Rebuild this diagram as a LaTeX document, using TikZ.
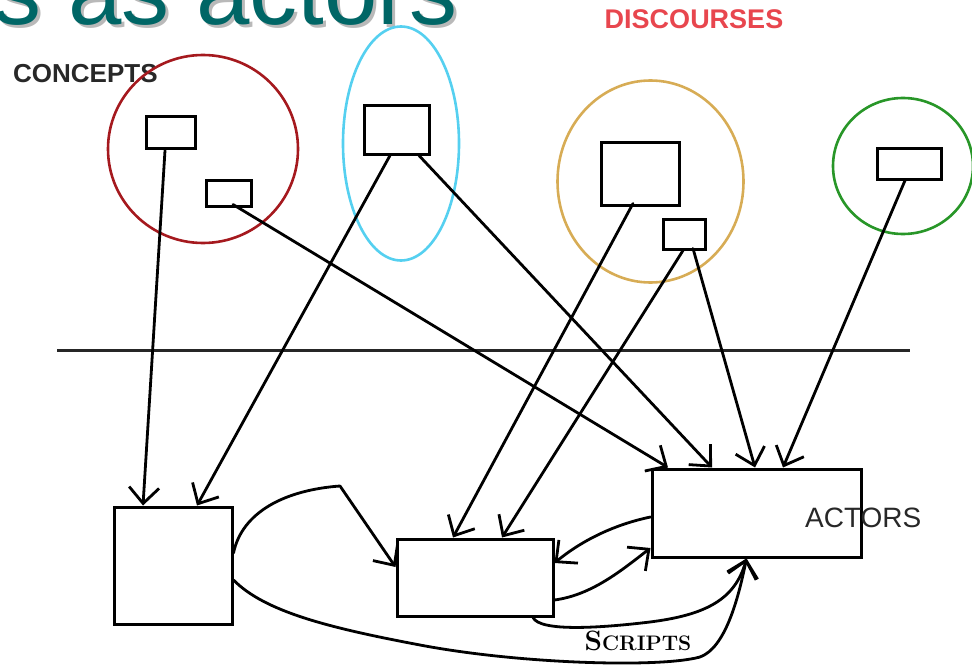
\documentclass[tikz,border=0pt]{standalone}
\usepackage{fontspec}
\newfontfamily\sansf{Liberation Sans}
\usetikzlibrary{arrows.meta}
\definecolor{titleteal}{RGB}{0,102,102}
\definecolor{shadowgray}{RGB}{185,185,185}
\definecolor{cred}{RGB}{165,25,30}
\definecolor{ccyan}{RGB}{85,208,240}
\definecolor{cgold}{RGB}{215,172,85}
\definecolor{cgreen}{RGB}{40,150,40}
\definecolor{dred}{RGB}{232,70,78}
\definecolor{ctext}{RGB}{40,40,40}
\tikzset{
  box/.style={draw=black, line width=3bp, inner sep=0pt},
  ring/.style={line width=2.6bp},
  arr/.style={line width=2.8bp, line cap=round, line join=round,
    -{Straight Barb[length=16bp,width=30bp]}},
  lbl/.style={inner sep=0pt, text=ctext},
}
\begin{document}
\begin{tikzpicture}[x=1bp,y=-1bp]
\useasboundingbox (0,0) rectangle (972,666);
% title
\node[anchor=base east, inner sep=0pt, text=shadowgray,
  font=\sansf\fontsize{96bp}{100bp}\selectfont] (tshadow) at (461,28) {s as actors};
\node[anchor=base east, inner sep=0pt, text=titleteal,
  font=\sansf\fontsize{96bp}{100bp}\selectfont] (title) at (458,25) {s as actors};
% labels
\node[inner sep=0pt, text=dred, font=\sansf\bfseries\fontsize{27bp}{29bp}\selectfont] (disc) at (694,19) {DISCOURSES};
\node[lbl, anchor=west, font=\sansf\bfseries\fontsize{26bp}{28bp}\selectfont] (conc) at (13,74) {CONCEPTS};
% rings
\draw[ring, cred] (203,149) ellipse [x radius=95bp, y radius=94bp];
\draw[ring, ccyan] (401,143.5) ellipse [x radius=58bp, y radius=117bp];
\draw[ring, cgold] (650.5,181.5) ellipse [x radius=93bp, y radius=101bp];
\draw[ring, cgreen] (903,166) ellipse [x radius=70bp, y radius=68bp];
% small boxes
\node[box, minimum width=49bp, minimum height=32bp] (c1) at (170.5,133) {};
\node[box, minimum width=45bp, minimum height=25bp] (c2) at (228.5,193.5) {};
\node[box, minimum width=65bp, minimum height=48bp] (b1) at (396.5,130) {};
\node[box, minimum width=78bp, minimum height=62bp] (g1) at (640,174) {};
\node[box, minimum width=42bp, minimum height=30bp] (g2) at (684,234) {};
\node[box, minimum width=64bp, minimum height=30bp] (r1) at (909,164) {};
% divider
\coordinate (h1) at (57,350);
\coordinate (h2) at (910,350);
\draw[line width=3bp, black!85] (h1) -- (h2);
% bottom boxes
\node[box, minimum width=118bp, minimum height=117bp] (L) at (173,565.5) {};
\node[box, minimum width=156bp, minimum height=77bp] (M) at (475,577.5) {};
\node[box, minimum width=209bp, minimum height=88bp] (A) at (756.5,513) {};
\node[lbl, anchor=west, font=\sansf\fontsize{28bp}{30bp}\selectfont] (act) at (805,518) {ACTORS};
% straight connectors
\draw[arr] ([xshift=-5.5bp]c1.south) -- ([xshift=-30bp]L.north);
\draw[arr] ([xshift=-6.5bp]b1.south) -- ([xshift=24bp]L.north);
\draw[arr] ([xshift=4.5bp,yshift=3bp]c2.south) -- ([xshift=-88.5bp]A.north);
\draw[arr] ([xshift=22.5bp]b1.south) -- ([xshift=-44.5bp]A.north);
\draw[arr] ([xshift=-7bp,yshift=3bp]g1.south) -- ([xshift=-22bp]M.north);
\draw[arr] ([xshift=-1bp]g2.south) -- ([xshift=27bp]M.north);
\draw[arr] ([xshift=9bp,yshift=2bp]g2.south) -- ([xshift=-1.5bp]A.north);
\draw[arr] ([xshift=-4bp]r1.south) -- ([xshift=26.5bp]A.north);
% curved connectors (scripts)
\draw[arr] ([yshift=12.5bp]L.east) .. controls (242,512) and (285,490) .. (340,486) -- ([yshift=10.5bp]M.west);
\draw[arr] ([yshift=-14.5bp]L.east) .. controls (265,612) and (330,628) .. (420,645)
  .. controls (520,664) and (660,668) .. (700,657)
  .. controls (725,648) and (738,600) .. ([xshift=-10bp]A.south);
\draw[arr] ([xshift=58bp]M.south) .. controls (540,632) and (600,628) .. (650,622)
  .. controls (705,615) and (735,600) .. ([xshift=-10bp]A.south);
\draw[arr] ([yshift=-4bp]A.west) .. controls (612,525) and (580,542) .. ([yshift=14.5bp]M.east);
\draw[arr] ([yshift=-22.5bp]M.east) .. controls (592,595) and (622,570) .. ([yshift=-35bp]A.west);
% scripts label
\node[inner sep=0pt, anchor=base, text=black] (scr) at (638,650)
  {\bfseries\fontsize{28bp}{30bp}\selectfont S\fontsize{21bp}{23bp}\selectfont CRIPTS};
\end{tikzpicture}
\end{document}
